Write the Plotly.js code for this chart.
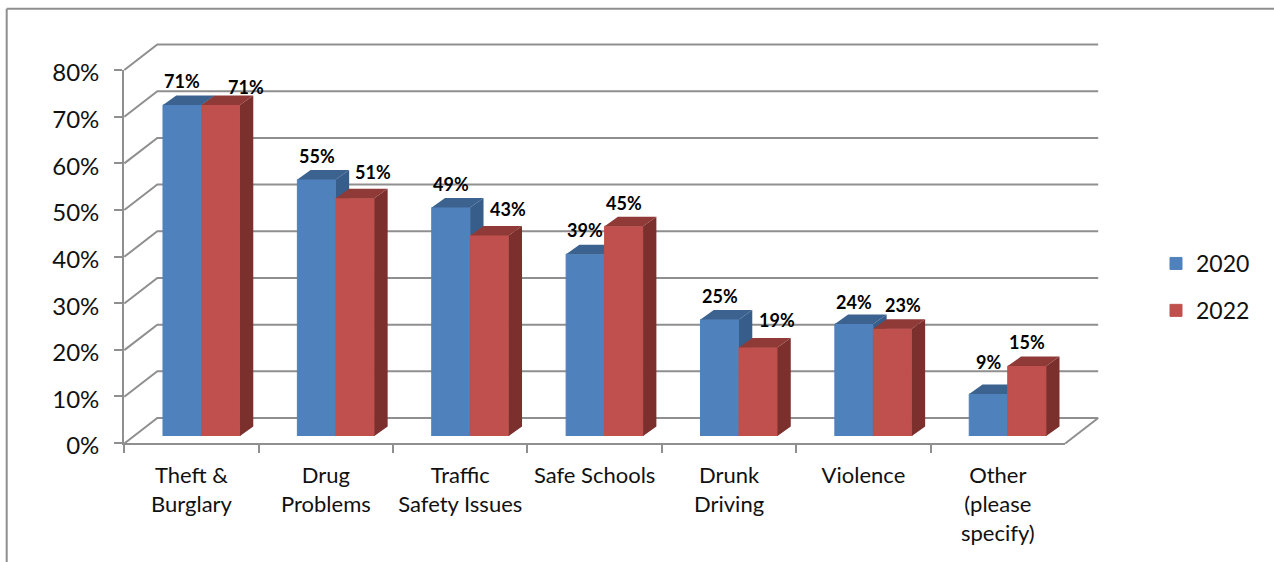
<!DOCTYPE html>
<html>
<head>
<meta charset="utf-8">
<script src="https://cdn.plot.ly/plotly-3.0.1.min.js"></script>
<style>html,body{margin:0;padding:0;background:#fff}#c{width:1274px;height:562px}</style>
</head>
<body>
<div id="c"></div>
<script>
const categories = ["Theft &<br>Burglary","Drug<br>Problems","Traffic<br>Safety Issues","Safe Schools","Drunk<br>Driving","Violence","Other<br>(please<br>specify)"];
const values2020 = [71,55,49,39,25,24,9];
const values2022 = [71,51,43,45,19,23,15];
const labelShift2020 = [[0,23.7],[0,23.5],[0,24],[0,24],[0,23],[0,22],[0,32]];
const labelShift2022 = [[25.5,18.4],[18,26],[19,27],[0,23],[19,27],[10,23.6],[0,24]];
const yTicks = [0,10,20,30,40,50,60,70,80];
const yTickLabels = ["0%","10%","20%","30%","40%","50%","60%","70%","80%"];

const W = 1274, H = 562;
const pxX = (a,b) => [a/W, b/W];
const pxY = (top,bottom) => [(H-bottom)/H, (H-top)/H];
const unitX = 134.39, unitY = 4.67;
const barW = 38.5/unitX;
const dx = 13.3/unitX, dy = 9.5/unitY;
const wallDx = 33/unitX, wallDy = 25.5/unitY;
const pad = 3;
const grey = "#8f8f8f";
const font = "Lato, Carlito, 'Open Sans', sans-serif";

function faces(vals, off){
  const side = {x:[],y:[]}, top = {x:[],y:[]};
  vals.forEach((v,i)=>{
    const l = i+off, r = l+barW;
    side.x.push(r,r+dx,r+dx,r,r,null); side.y.push(0,dy,v+dy,v,0,null);
    top.x.push(l,l+dx,r+dx,r,l,null); top.y.push(v,v+dy,v+dy,v,v,null);
  });
  return {side,top};
}
const polyTrace = (p,color,xa,ya)=>({x:p.x,y:p.y,xaxis:xa,yaxis:ya,type:"scatter",mode:"lines",fill:"toself",
  fillcolor:color,line:{width:0,color:color},hoverinfo:"skip",showlegend:false,cliponaxis:false});

// back wall gridlines with their diagonal connectors to the front axis, plus the floor edge
const wallX = [], wallY = [];
yTicks.forEach(t=>{wallX.push(-0.5-wallDx,-0.5,6.5,null); wallY.push(t-wallDy,t,t,null);});
wallX.push(6.5-wallDx,6.5); wallY.push(-wallDy,0);

const f20 = faces(values2020,-barW), f22 = faces(values2022,0);
const idx = categories.map((_,i)=>i);
const data = [
  {x:wallX,y:wallY,xaxis:"x",yaxis:"y",type:"scatter",mode:"lines",line:{color:grey,width:2},hoverinfo:"skip",showlegend:false},
  {x:categories,y:categories.map(()=>null),xaxis:"x2",yaxis:"y2",type:"bar",hoverinfo:"skip",showlegend:false},
  {x:categories,y:categories.map(()=>null),xaxis:"x2",yaxis:"y5",type:"bar",hoverinfo:"skip",showlegend:false},
  polyTrace(f20.side,"#375d8a","x3","y3"),
  polyTrace(f20.top,"#3c628f","x3","y3"),
  {name:"2020",x:idx,y:values2020,xaxis:"x3",yaxis:"y3",type:"bar",offset:-barW,width:barW,legendgroup:"a",
   marker:{color:"#4f81bd",line:{color:"#4f81bd",width:1}}},
  polyTrace(f22.side,"#7b302e","x4","y4"),
  polyTrace(f22.top,"#8f3a37","x4","y4"),
  {name:"2022",x:idx,y:values2022,xaxis:"x4",yaxis:"y4",type:"bar",offset:0,width:barW,legendgroup:"b",
   marker:{color:"#c0504d",line:{color:"#c0504d",width:1}}}
];

const hidden = {visible:false,range:[-0.5,6.5],type:"linear",fixedrange:true};
const layout = {
  width:W,height:H,margin:{l:0,r:0,t:0,b:0},paper_bgcolor:"#fff",plot_bgcolor:"rgba(0,0,0,0)",
  font:{family:font,color:"#000"},bargap:0,
  xaxis:{visible:false,type:"linear",fixedrange:true,anchor:"y",domain:pxX(124.3-pad,1098.2+pad),
         range:[-0.5-wallDx-pad/unitX,6.5+pad/unitX]},
  yaxis:{visible:false,type:"linear",fixedrange:true,anchor:"x",domain:pxY(44.5-pad,443.5+pad),
         range:[-wallDy-pad/unitY,80+pad/unitY]},
  xaxis2:{domain:pxX(124.3,1065),anchor:"y2",type:"category",categoryorder:"array",categoryarray:categories,range:[-0.5,6.5],
          tickson:"boundaries",ticks:"outside",ticklen:8,tickwidth:2,tickcolor:grey,showline:true,linecolor:grey,linewidth:2,
          showgrid:false,zeroline:false,tickangle:0,ticklabelstandoff:12,tickfont:{size:22,family:font,color:"#111"},fixedrange:true},
  yaxis2:{domain:pxY(70,443),range:[0,80],tickmode:"array",tickvals:yTicks,ticktext:yTicks.map(()=>""),anchor:"x2",side:"left",ticks:"outside",ticklen:8,tickwidth:2,tickcolor:grey,
          showline:true,linecolor:grey,linewidth:2,showgrid:false,zeroline:false,fixedrange:true},
  // tick labels sit a few pixels below their tick marks in the reference
  yaxis5:{domain:pxY(73,446),range:[0,80],tickmode:"array",tickvals:yTicks,ticktext:yTickLabels,anchor:"x2",side:"left",ticks:"",
          showline:false,showgrid:false,zeroline:false,ticklabelstandoff:24,tickfont:{size:24,family:font,color:"#111"},fixedrange:true},
  xaxis3:{...hidden,domain:pxX(134.3,1074.9),anchor:"y3"},
  yaxis3:{visible:false,domain:pxY(63,436),range:[0,80],anchor:"x3",fixedrange:true},
  xaxis4:{...hidden,domain:pxX(134.3,1074.9),anchor:"y4"},
  yaxis4:{visible:false,domain:pxY(63,436),range:[0,80],anchor:"x4",fixedrange:true},
  legend:{x:1156/W,y:(H-242)/H,xanchor:"left",yanchor:"top",tracegroupgap:14,traceorder:"grouped",font:{size:23,family:font,color:"#111"},bgcolor:"rgba(0,0,0,0)"},
  shapes:[
    {type:"line",xref:"paper",yref:"paper",x0:6.7/W,x1:6.7/W,y0:0,y1:(H-8.7)/H,line:{color:grey,width:2}},
    {type:"line",xref:"paper",yref:"paper",x0:6.7/W,x1:1,y0:(H-8.7)/H,y1:(H-8.7)/H,line:{color:grey,width:2}}
  ],
  annotations:[]
};
function addLabels(vals,shift,off,xa,ya){
  vals.forEach((v,i)=>layout.annotations.push({x:i+off+barW/2,y:v,xref:xa,yref:ya,text:v+"%",showarrow:false,
    xanchor:"center",yanchor:"middle",xshift:shift[i][0],yshift:shift[i][1],font:{size:18,family:font,color:"#000",weight:700}}));
}
addLabels(values2020,labelShift2020,-barW,"x3","y3");
addLabels(values2022,labelShift2022,0,"x4","y4");
Plotly.newPlot("c",data,layout,{displayModeBar:false,staticPlot:true});
</script>
</body>
</html>
